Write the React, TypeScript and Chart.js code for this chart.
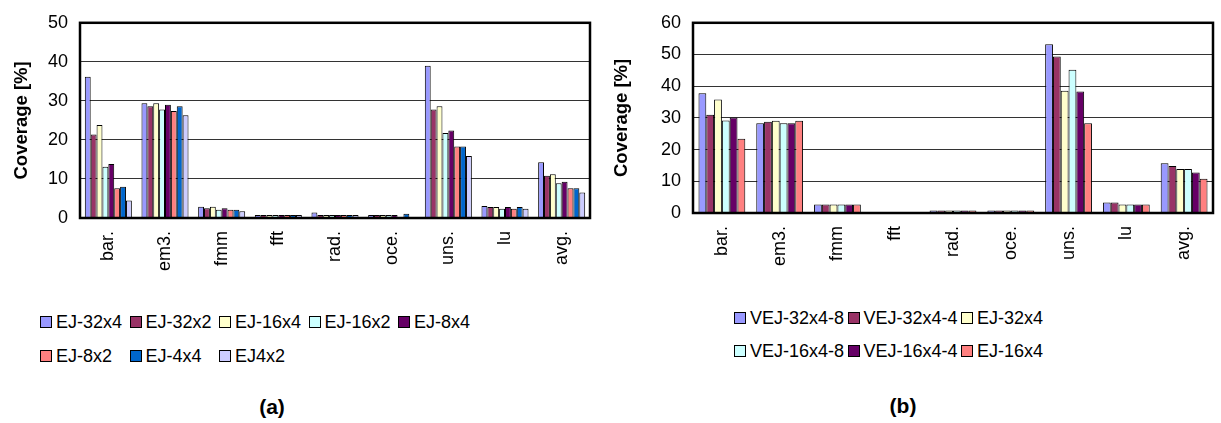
import React, { useEffect, useRef } from "react";
import { Chart, registerables } from "chart.js";

Chart.register(...registerables);

const CATEGORIES = ["bar.", "em3.", "fmm", "fft", "rad.", "oce.", "uns.", "lu", "avg."];

// Chart (a)
const A_LABELS = ["EJ-32x4", "EJ-32x2", "EJ-16x4", "EJ-16x2", "EJ-8x4", "EJ-8x2", "EJ-4x4", "EJ4x2"];
const A_EJ_32x4 = [36.2, 29.4, 2.9, 0.8, 1.4, 0.8, 39.0, 3.1, 14.3];
const A_EJ_32x2 = [21.4, 28.6, 2.5, 0.8, 0.8, 0.8, 27.8, 2.8, 10.8];
const A_EJ_16x4 = [23.8, 29.4, 2.9, 0.8, 0.8, 0.8, 28.6, 2.8, 11.2];
const A_EJ_16x2 = [13.1, 27.8, 2.1, 0.8, 0.8, 0.8, 21.8, 2.4, 8.9];
const A_EJ_8x4 = [13.8, 29.0, 2.5, 0.8, 0.8, 0.8, 22.4, 2.8, 9.3];
const A_EJ_8x2 = [7.6, 27.4, 2.1, 0.8, 0.8, 0.2, 18.3, 2.4, 7.6];
const A_EJ_4x4 = [8.0, 28.6, 2.1, 0.8, 0.8, 1.1, 18.3, 2.8, 7.6];
const A_EJ4x2 = [4.5, 26.3, 1.7, 0.8, 0.8, 0.2, 15.9, 2.4, 6.5];
const A_SERIES = [A_EJ_32x4, A_EJ_32x2, A_EJ_16x4, A_EJ_16x2, A_EJ_8x4, A_EJ_8x2, A_EJ_4x4, A_EJ4x2];
const A_TICKS_MAX = 50;

// Chart (b)
const B_LABELS = ["VEJ-32x4-8", "VEJ-32x4-4", "EJ-32x4", "VEJ-16x4-8", "VEJ-16x4-4", "EJ-16x4"];
const B_VEJ_32x4_8 = [37.8, 28.3, 2.7, 0.3, 0.8, 0.8, 53.2, 3.3, 15.7];
const B_VEJ_32x4_4 = [31.0, 28.8, 2.7, 0.3, 0.8, 0.8, 49.4, 3.3, 14.8];
const B_EJ_32x4 = [35.8, 29.1, 2.7, 0.3, 0.8, 0.8, 38.6, 2.7, 13.9];
const B_VEJ_16x4_8 = [29.2, 28.3, 2.7, 0.3, 0.8, 0.8, 45.2, 2.7, 13.9];
const B_VEJ_16x4_4 = [30.1, 28.3, 2.7, 0.3, 0.8, 0.8, 38.3, 2.7, 12.8];
const B_EJ_16x4 = [23.4, 29.1, 2.7, 0.3, 0.8, 0.8, 28.3, 2.7, 10.8];
const B_SERIES = [B_VEJ_32x4_8, B_VEJ_32x4_4, B_EJ_32x4, B_VEJ_16x4_8, B_VEJ_16x4_4, B_EJ_16x4];
const B_TICKS_MAX = 60;

const A_COLORS = ["#9999FF", "#993366", "#FFFFCC", "#CCFFFF", "#660066", "#FF8080", "#0066CC", "#CCCCFF"];
const B_COLORS = ["#9999FF", "#993366", "#FFFFCC", "#CCFFFF", "#660066", "#FF8080"];

const FONT = "'Liberation Sans', Arial, sans-serif";

const framePlugin = {
  id: "frame",
  afterDraw(chart: any) {
    const { ctx, chartArea } = chart;
    ctx.save();
    ctx.strokeStyle = "#000";
    ctx.lineWidth = 2.5;
    ctx.strokeRect(chartArea.left, chartArea.top, chartArea.right - chartArea.left, chartArea.bottom - chartArea.top);
    ctx.restore();
  },
};

type Cfg = {
  width: number;
  height: number;
  plotLeft: number;
  plotRight: number;
  plotTop: number;
  plotBottom: number;
  max: number;
  labels: string[];
  series: number[][];
  colors: string[];
  catPct: number;
};

function BarChart({ cfg }: { cfg: Cfg }) {
  const ref = useRef<HTMLCanvasElement | null>(null);
  useEffect(() => {
    if (!ref.current) return;
    const chart = new Chart(ref.current, {
      type: "bar",
      data: {
        labels: CATEGORIES,
        datasets: cfg.series.map((d, i) => ({
          label: cfg.labels[i],
          data: d,
          backgroundColor: cfg.colors[i],
          borderColor: "#000",
          borderWidth: 1,
          categoryPercentage: cfg.catPct,
          barPercentage: 1,
        })),
      },
      options: {
        responsive: false,
        animation: false,
        layout: {
          padding: { left: 0, right: cfg.width - cfg.plotRight, top: cfg.plotTop, bottom: 0 },
        },
        plugins: { legend: { display: false }, tooltip: { enabled: false }, title: { display: false } },
        scales: {
          x: {
            grid: { display: false, drawTicks: false },
            border: { display: false },
            ticks: {
              autoSkip: false,
              minRotation: 90,
              maxRotation: 90,
              padding: 13,
              color: "#000",
              font: { family: FONT, size: 18 },
            },
            afterFit(scale: any) {
              scale.height = cfg.height - cfg.plotBottom;
            },
          },
          y: {
            min: 0,
            max: cfg.max,
            grid: { color: "#333", lineWidth: 1, drawTicks: false },
            border: { display: false },
            ticks: {
              stepSize: 10,
              padding: 12,
              color: "#000",
              font: { family: FONT, size: 18 },
            },
            title: {
              display: true,
              text: "Coverage [%]",
              color: "#000",
              font: { family: FONT, size: 18.5, weight: "bold" },
              padding: { top: 11, bottom: 0 },
            },
            afterFit(scale: any) {
              scale.width = cfg.plotLeft;
            },
          },
        },
      },
      plugins: [framePlugin],
    } as any);
    return () => chart.destroy();
  }, [cfg]);
  return <canvas ref={ref} width={cfg.width} height={cfg.height} style={{ display: "block", width: cfg.width, height: cfg.height }} />;
}

const CFG_A: Cfg = {
  width: 600,
  height: 300,
  plotLeft: 80,
  plotRight: 590,
  plotTop: 17,
  plotBottom: 218,
  max: A_TICKS_MAX,
  labels: A_LABELS,
  series: A_SERIES,
  colors: A_COLORS,
  catPct: 0.83,
};

const CFG_B: Cfg = {
  width: 621,
  height: 300,
  plotLeft: 93,
  plotRight: 613,
  plotTop: 14,
  plotBottom: 213,
  max: B_TICKS_MAX,
  labels: B_LABELS,
  series: B_SERIES,
  colors: B_COLORS,
  catPct: 0.81,
};

function Legend({ labels, colors, left, cols, colW, rowY }: { labels: string[]; colors: string[]; left: number; cols: number; colW: number; rowY: number[] }) {
  return (
    <>
      {labels.map((l, i) => {
        const c = i % cols;
        const r = Math.floor(i / cols);
        const x = left + c * colW;
        const y = rowY[r];
        return (
          <div key={l} style={{ position: "absolute", left: x, top: y - 11, height: 22, display: "flex", alignItems: "center", whiteSpace: "nowrap" }}>
            <div style={{ width: 10, height: 10, background: colors[i], border: "1px solid #000", marginRight: 4 }} />
            <span style={{ fontFamily: FONT, fontSize: 18, color: "#000" }}>{l}</span>
          </div>
        );
      })}
    </>
  );
}

export default function App() {
  return (
    <div style={{ position: "fixed", left: 0, top: 0, width: 1221, height: 423, background: "#fff", overflow: "hidden" }}>
      <div style={{ position: "absolute", left: 0, top: 0 }}>
        <BarChart cfg={CFG_A} />
      </div>
      <div style={{ position: "absolute", left: 600, top: 0 }}>
        <BarChart cfg={CFG_B} />
      </div>
      <Legend labels={A_LABELS} colors={A_COLORS} left={40} cols={5} colW={89.5} rowY={[322, 356]} />
      <Legend labels={B_LABELS} colors={B_COLORS} left={734} cols={3} colW={113.5} rowY={[318, 351]} />
      <div style={{ position: "absolute", left: 222, width: 100, top: 395, textAlign: "center", fontFamily: FONT, fontWeight: "bold", fontSize: 21 }}>(a)</div>
      <div style={{ position: "absolute", left: 853, width: 100, top: 394, textAlign: "center", fontFamily: FONT, fontWeight: "bold", fontSize: 21 }}>(b)</div>
    </div>
  );
}
